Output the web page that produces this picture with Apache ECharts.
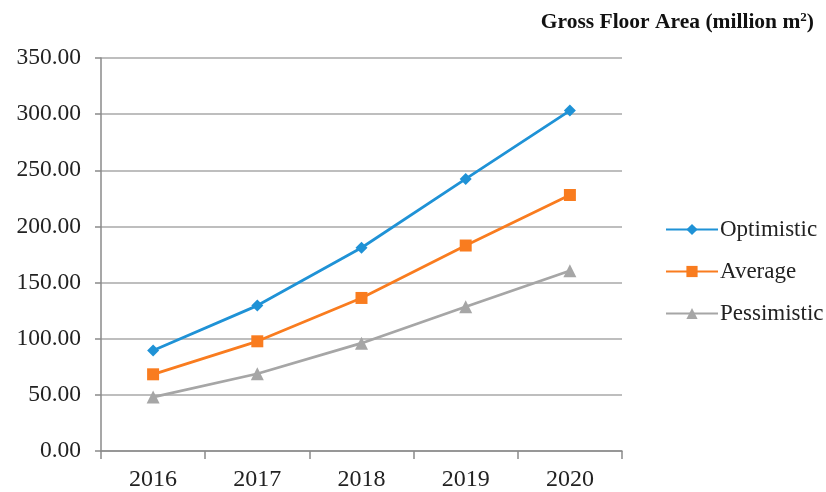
<!DOCTYPE html>
<html>
<head>
<meta charset="utf-8">
<script src="https://cdn.jsdelivr.net/npm/echarts@6/dist/echarts.min.js"></script>
<style>html,body{margin:0;padding:0;background:#fff;}#c{width:826px;height:492px;}</style>
</head>
<body>
<div id="c"></div>
<script>
const categories = ['2016', '2017', '2018', '2019', '2020'];
const optimistic = [89.5, 129.5, 181.0, 242.3, 303.2];
const average = [68.3, 97.7, 136.3, 183.0, 228.0];
const pessimistic = [48.0, 68.8, 96.0, 128.5, 160.5];
const yTicks = { min: 0, max: 350, interval: 50 };

const serif = '"Liberation Serif", "DejaVu Serif", serif';
const chart = echarts.init(document.getElementById('c'));
chart.setOption({
  animation: false,
  backgroundColor: '#fff',
  title: {
    text: 'Gross Floor Area (million m{sup|2})',
    right: 7,
    top: 6,
    textStyle: {
      fontFamily: serif, fontWeight: 'bold', fontSize: 21.5, color: '#111',
      rich: { sup: { fontFamily: serif, fontWeight: 'bold', fontSize: 13, color: '#111', verticalAlign: 'top', padding: [0, 0, 8, 0] } }
    }
  },
  legend: {
    orient: 'vertical',
    left: 660,
    top: 213,
    itemWidth: 52,
    itemHeight: 14,
    itemGap: 19,
    textStyle: { fontFamily: serif, fontSize: 23, color: '#222', padding: [0, 0, 0, -3] },
    data: ['Optimistic', 'Average', 'Pessimistic']
  },
  grid: { left: 101, right: 204, top: 58, bottom: 40, containLabel: false },
  xAxis: {
    type: 'category',
    data: categories,
    boundaryGap: true,
    axisLine: { lineStyle: { color: '#8a8a8a', width: 1.5 } },
    axisTick: { show: true, length: 8, lineStyle: { color: '#8a8a8a', width: 1.5 } },
    axisLabel: { fontFamily: serif, fontSize: 24, color: '#222', margin: 17 }
  },
  yAxis: {
    type: 'value',
    min: yTicks.min,
    max: yTicks.max,
    interval: yTicks.interval,
    axisLine: { show: true, lineStyle: { color: '#8a8a8a', width: 1.5 } },
    axisTick: { show: true, length: 6, lineStyle: { color: '#8a8a8a', width: 1.5 } },
    axisLabel: { fontFamily: serif, fontSize: 23.5, color: '#222', margin: 20, formatter: v => v.toFixed(2) },
    splitLine: { lineStyle: { color: '#a8a8a8', width: 1.5 } }
  },
  series: [
    { name: 'Optimistic', type: 'line', data: optimistic, symbol: 'diamond', symbolSize: 12,
      itemStyle: { color: '#1f92d6' }, lineStyle: { width: 2.8, color: '#1f92d6' } },
    { name: 'Average', type: 'line', data: average, symbol: 'rect', symbolSize: 12,
      itemStyle: { color: '#f97c1f' }, lineStyle: { width: 2.8, color: '#f97c1f' } },
    { name: 'Pessimistic', type: 'line', data: pessimistic, symbol: 'triangle', symbolSize: 13,
      itemStyle: { color: '#a6a6a6' }, lineStyle: { width: 2.8, color: '#a6a6a6' } }
  ]
});
</script>
</body>
</html>
